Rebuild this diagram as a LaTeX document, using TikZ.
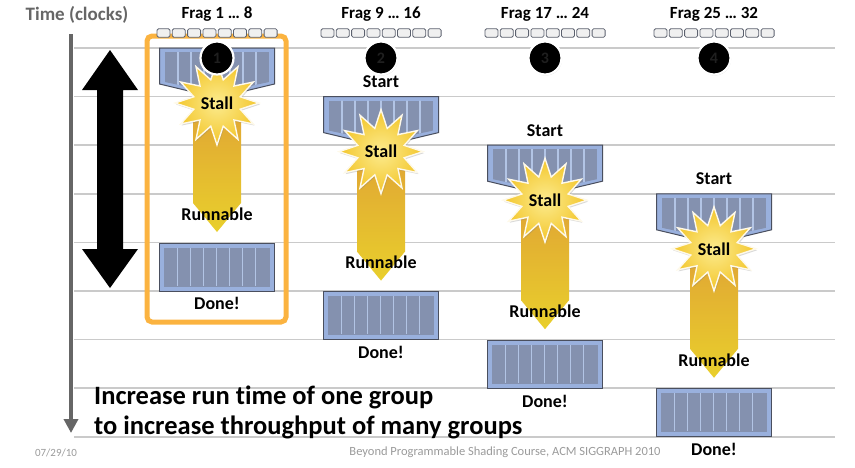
\documentclass[tikz,border=0pt]{standalone}
\usepackage{fontspec}
\setmainfont{Carlito}[Ligatures=NoCommon]
\usepackage{tikz}
\usetikzlibrary{positioning, arrows.meta, calc, shapes.geometric, shadows}
\usepackage{xcolor}
\definecolor{sgGrid}{HTML}{CACACA}
\definecolor{sgAxis}{HTML}{666666}
\definecolor{sgOrange}{HTML}{FBB340}
\definecolor{sgBlue}{HTML}{99B0DD}
\definecolor{sgSlate}{HTML}{8491AF}
\definecolor{sgEdge}{HTML}{4A4F5E}
\definecolor{sgGold}{HTML}{F3C62B}
\definecolor{sgCream}{HTML}{FCEB8E}
\definecolor{sgAmber}{HTML}{DFA035}
\definecolor{sgLemon}{HTML}{E9CF2C}
\definecolor{sgMuted}{HTML}{9A9A9A}

\tikzset{
  lbl/.style={font=\fontsize{18}{20}\selectfont\bfseries, inner sep=0pt},
  slotbox/.style={draw=sgEdge!90, fill=gray!12, rounded corners=1.5pt, line width=0.8pt,
    minimum width=13pt, minimum height=8.5pt, inner sep=0pt},
  marker/.style={circle, fill=black, draw=white, line width=2.2pt, minimum size=33pt,
    inner sep=0pt, text=black!88!white, font=\fontsize{16}{18}\selectfont\bfseries,
    drop shadow={opacity=0.35, shadow xshift=0.6pt, shadow yshift=-1pt}},
  stallstar/.style={star, star points=12, star point ratio=1.75, minimum size=84pt,
    inner sep=0pt, inner color=sgCream, outer color=sgGold, draw=white!90!sgGold,
    line width=1.4pt, font=\fontsize{18}{20}\selectfont\bfseries,
    drop shadow={opacity=0.3, shadow xshift=1pt, shadow yshift=-1.5pt}},
  donebox/.style={draw=sgEdge, fill=sgBlue, line width=1pt, minimum width=115pt,
    minimum height=48pt, inner sep=0pt},
  divider/.style={sgBlue!75!white, line width=1.2pt},
}

\begin{document}
\begin{tikzpicture}[x=1pt, y=-1pt]
  \useasboundingbox (0,0) rectangle (855,467);

  % time grid
  \foreach \k in {0,...,8}
    \draw[sgGrid, line width=1.6pt] (74,48+48.6*\k) -- (835,48+48.6*\k);
  \node[font=\fontsize{19}{21}\selectfont\bfseries, text=sgAxis, inner sep=0pt]
    (timeTitle) at (77,15) {Time (clocks)};
  \draw[sgAxis, line width=3.5pt, -{Triangle[length=14pt, width=14pt]}] (71,34) -- (71,433);

  % latency arrow and first group frame
  \fill[black] (110,50) -- (138,90) -- (123,90) -- (123,249) -- (138,249) -- (110,288)
    -- (82,249) -- (97,249) -- (97,90) -- (82,90) -- cycle;
  \draw[sgOrange, line width=5pt, rounded corners=5pt] (147,36) rectangle (286,322);

  \foreach \g/\cx/\n/\lo/\hi in {0/217/1/1/8, 1/381/2/9/16, 2/545/3/17/24, 3/714/4/25/32} {
    \pgfmathsetmacro\yo{48+48.6*\g}
    % issue block
    \filldraw[fill=sgBlue, draw=sgEdge, line width=1pt]
      (\cx-57.5,\yo) -- (\cx+57.5,\yo) -- (\cx+57.5,\yo+36) -- (\cx+24,\yo+44)
      -- (\cx-24,\yo+44) -- (\cx-57.5,\yo+36) -- cycle;
    \begin{scope}
      \clip (\cx-52,\yo+4) -- (\cx+52,\yo+4) -- (\cx+52,\yo+34) -- (\cx+24,\yo+40)
        -- (\cx-24,\yo+40) -- (\cx-52,\yo+34) -- cycle;
      \fill[sgSlate] (\cx-52,\yo+4) rectangle (\cx+52,\yo+42);
      \foreach \k in {1,...,7}
        \draw[divider] (\cx-52+13*\k,\yo) -- ++(0,45);
    \end{scope}
    % runnable arrow
    \shade[top color=sgAmber, bottom color=sgLemon]
      (\cx-24,\yo+44) -- (\cx+24,\yo+44) -- (\cx+24,\yo+155) -- (\cx,\yo+184)
      -- (\cx-24,\yo+155) -- cycle;
    \node[stallstar] (stall\n) at (\cx,\yo+55) {Stall};
    \node[lbl] (run\n) at (\cx,\yo+166) {Runnable};
    % finished block
    \node[donebox] (done\n) at (\cx,\yo+219) {};
    \fill[sgSlate] ([shift={(5pt,-5pt)}]done\n.north west)
      rectangle ([shift={(-5pt,5pt)}]done\n.south east);
    \foreach \k in {1,...,7}
      \draw[divider] ($(done\n.north west)+(5+13.1*\k,5)$) -- ++(0,38);
    \node[lbl, below=6pt of done\n] (doneTxt\n) {Done!};
    % header
    \node[lbl, font=\fontsize{17}{20}\selectfont\bfseries] (frag\n) at (\cx,14) {Frag \lo\ … \hi};
    \foreach \k in {0,...,7}
      \node[slotbox] at (\cx-53.5+15.3*\k,33) {};
    \ifnum\g>0
      \node[lbl] (start\n) at (\cx,\yo-15) {Start};
    \fi
    \node[marker] (mark\n) at (\cx,58) {\n};
  }

  \node[anchor=west, align=left, inner sep=0pt,
    font=\fontsize{26.5}{30}\selectfont\bfseries] (moral) at (94,412)
    {Increase run time of one group\\to increase throughput of many groups};
  \node[text=sgMuted, font=\fontsize{11}{12}\selectfont] (date) at (56,453) {07/29/10};
  \node[text=sgMuted, font=\fontsize{12.5}{14}\selectfont] (venue) at (505,452)
    {Beyond Programmable Shading Course, ACM SIGGRAPH 2010};
\end{tikzpicture}
\end{document}
